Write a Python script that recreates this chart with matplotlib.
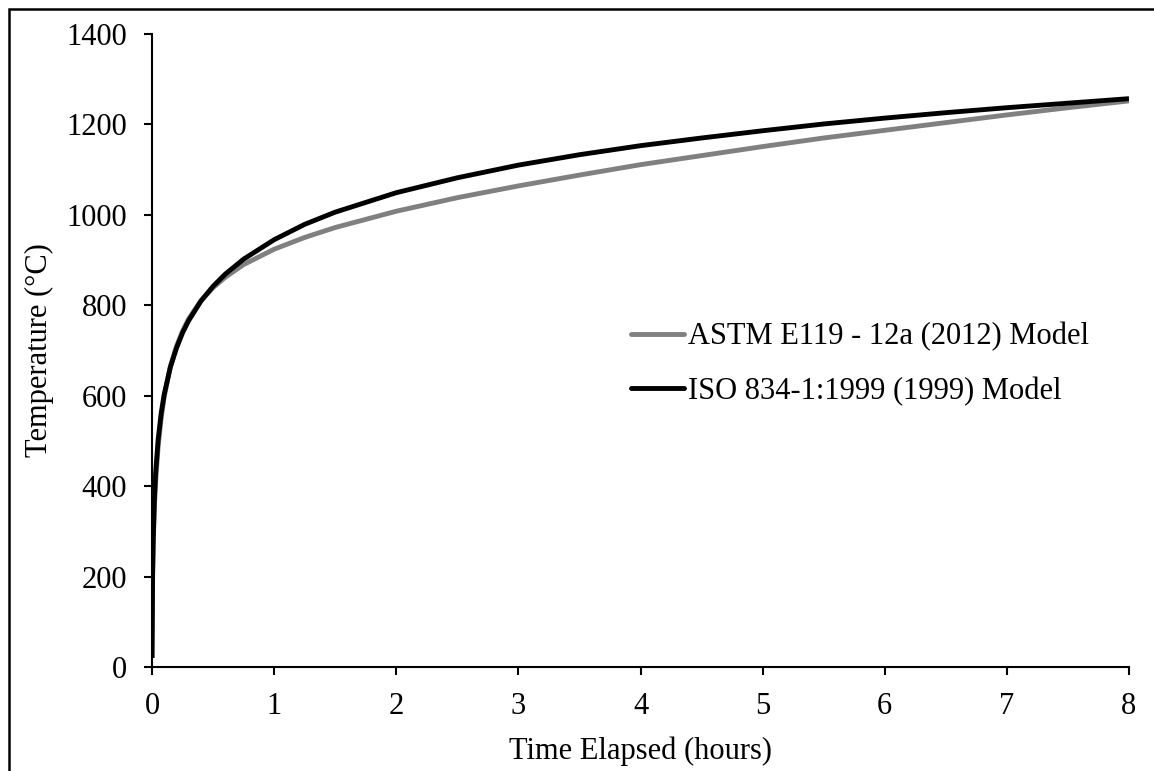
import matplotlib.pyplot as plt
from matplotlib.patches import Rectangle

# Time (hours) and furnace temperature (deg C)
hours = [0, 0.005, 0.01, 0.02, 0.03, 0.05, 0.075, 0.1, 0.15, 0.2, 0.25, 0.3,
         0.4, 0.5, 0.6, 0.75, 1, 1.25, 1.5, 2, 2.5, 3, 3.5, 4, 4.5, 5,
         5.5, 6, 6.5, 7, 7.5, 8]
astm_temp = [20, 209, 274, 356, 411, 487, 551, 598, 664, 709, 743, 770,
             810, 839, 862, 890, 924, 950, 972, 1008, 1038, 1064, 1088, 1111,
             1131, 1151, 1170, 1187, 1204, 1221, 1237, 1252]
iso_temp = [20, 203, 283, 374, 430, 502, 561, 603, 663, 705, 739, 766,
            809, 842, 869, 902, 945, 979, 1006, 1049, 1082, 1110, 1133, 1153,
            1170, 1186, 1201, 1214, 1226, 1237, 1247, 1257]

series = [
    ("ASTM E119 - 12a (2012) Model", astm_temp, "#808080"),
    ("ISO 834-1:1999 (1999) Model", iso_temp, "#000000"),
]

x_ticks = list(range(0, 9))
y_ticks = list(range(0, 1401, 200))

plt.rcParams["font.family"] = ["Liberation Serif", "DejaVu Serif"]

W, H = 1154, 771
fig = plt.figure(figsize=(W / 100, H / 100), dpi=100)
ax = fig.add_axes([152 / W, 1 - 667 / H, (1129 - 152) / W, (667 - 34) / H])

for name, temps, color in series:
    ax.plot(hours, temps, color=color, linewidth=3.5, label=name,
            solid_capstyle="butt", zorder=3)

ax.set_xlim(0, 8)
ax.set_ylim(0, 1400)
ax.set_xticks(x_ticks)
ax.set_yticks(y_ticks)
for side in ("top", "right"):
    ax.spines[side].set_visible(False)
for side in ("left", "bottom"):
    ax.spines[side].set_linewidth(1.5)
ax.tick_params(axis="both", direction="out", length=6, width=1.5,
               labelsize=22, pad=12)
ax.set_xlabel("Time Elapsed (hours)", fontsize=22, labelpad=11)
ax.set_ylabel("Temperature (°C)", fontsize=22, labelpad=9)

leg = ax.legend(loc="center left", frameon=False, fontsize=22,
                handlelength=1.75, handletextpad=0.12, labelspacing=0.82,
                borderpad=0, borderaxespad=0,
                bbox_to_anchor=(631 / W, 1 - 364 / H),
                bbox_transform=fig.transFigure)
for line in leg.get_lines():
    line.set_solid_capstyle("round")

# border of the original export: only its left and top edges are in frame
fig.patches.append(Rectangle((9 / W, -10 / H), (W + 20) / W, (H + 10 - 9) / H,
                             transform=fig.transFigure, fill=False,
                             edgecolor="black", linewidth=1.8))

fig.savefig("out.png", dpi=100, facecolor="white")
